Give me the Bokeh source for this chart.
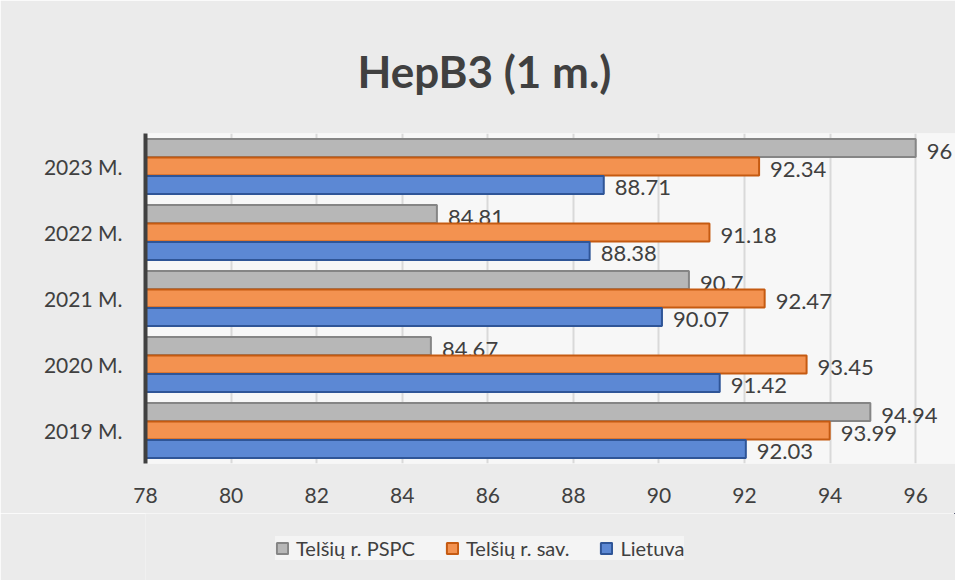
from bokeh.plotting import figure
from bokeh.layouts import column
from bokeh.models import ColumnDataSource, FactorRange, FixedTicker, Legend, LegendItem
from bokeh.transform import dodge
from bokeh.core.properties import value
from bokeh.embed import file_html
from bokeh.resources import INLINE

years = ["2019 M.", "2020 M.", "2021 M.", "2022 M.", "2023 M."]
pspc = [94.94, 84.67, 90.7, 84.81, 96]
sav = [93.99, 93.45, 92.47, 91.18, 92.34]
lietuva = [92.03, 91.42, 90.07, 88.38, 88.71]
series_names = ["Telšių r. PSPC", "Telšių r. sav.", "Lietuva"]
x_ticks = [78, 80, 82, 84, 86, 88, 90, 92, 94, 96]

FONT = "Lato"
TXT = "#404040"
BORDER = "#ebebeb"

p = figure(frame_width=810, frame_height=330, y_range=FactorRange(*years, range_padding=0),
           x_range=(78, 96.93), output_backend="svg", toolbar_location=None,
           min_border_left=145, min_border_right=0, min_border_top=133, min_border_bottom=50)
p.background_fill_color = "#f7f7f7"
p.border_fill_color = BORDER
p.outline_line_color = None

p.title.text = "HepB3 (1 m.)"
p.title.text_font = FONT
p.title.text_font_size = "44px"
p.title.text_font_style = "bold"
p.title.text_color = TXT
p.title.align = "left"
p.title.offset = 212
p.title.standoff = 74

src = ColumnDataSource(dict(year=years, pspc=pspc, sav=sav, lt=lietuva,
                            pspc_l=[f"{v:g}" for v in pspc],
                            sav_l=[f"{v:g}" for v in sav],
                            lt_l=[f"{v:g}" for v in lietuva]))

h = 0.27
specs = [("pspc", 0.28, "#b7b7b7", "#858585"),
         ("sav", 0.0, "#f39250", "#c55a11"),
         ("lt", -0.28, "#5c88d4", "#2f5597")]
for col, off, fill, line in specs:
    p.hbar(y=dodge("year", off, range=p.y_range), right=col, left=78, height=h,
           fill_color=fill, line_color=line, line_width=2, source=src)
    p.text(x=col, y=dodge("year", off, range=p.y_range), text=col + "_l", source=src,
           x_offset=11, y_offset=3, text_baseline="middle", text_align="left",
           text_font=value(FONT), text_font_size="22px", text_color=TXT)

p.xaxis.ticker = FixedTicker(ticks=x_ticks)
p.xgrid.ticker = FixedTicker(ticks=x_ticks)
p.xaxis.axis_line_color = None
p.xaxis.major_tick_line_color = None
p.xaxis.minor_tick_line_color = None
p.xaxis.major_label_standoff = 18
p.xaxis.major_label_text_font = FONT
p.xaxis.major_label_text_font_size = "21px"
p.xaxis.major_label_text_color = TXT

p.yaxis.axis_line_color = "#404040"
p.yaxis.axis_line_width = 4
p.yaxis.major_tick_line_color = None
p.yaxis.minor_tick_line_color = None
p.yaxis.major_label_standoff = 17
p.yaxis.major_label_text_font = FONT
p.yaxis.major_label_text_font_size = "21px"
p.yaxis.major_label_text_color = TXT

p.ygrid.grid_line_color = None
p.xgrid.grid_line_color = "#d9d9d9"
p.xgrid.grid_line_width = 2

# legend strip below the chart (series bars re-drawn out of view as legend proxies)
lf = figure(frame_width=810, frame_height=67, x_range=(0, 1), y_range=(0, 1),
            output_backend="svg", toolbar_location=None,
            min_border_left=145, min_border_right=0, min_border_top=0, min_border_bottom=0)
lf.axis.visible = False
lf.grid.grid_line_color = None
lf.background_fill_color = BORDER
lf.border_fill_color = BORDER
lf.outline_line_color = None
proxies = []
for col, off, fill, line in specs:
    proxies.append(lf.hbar(y=col, right=col, left=78, height=h, fill_color=fill,
                           line_color=line, line_width=2, source=src))

legend = Legend(items=[LegendItem(label=n, renderers=[r]) for n, r in zip(series_names, proxies)],
                orientation="horizontal", location=(130, 20))
legend.background_fill_color = "#f4f4f4"
legend.border_line_color = None
legend.label_text_font = FONT
legend.label_text_font_size = "20px"
legend.label_text_color = TXT
legend.label_standoff = 7
legend.glyph_width = 14
legend.glyph_height = 14
legend.spacing = 30
legend.padding = 12
legend.margin = 0
lf.add_layout(legend)

layout = column(p, lf, spacing=0)
open("out.html", "w").write(file_html(layout, INLINE))
